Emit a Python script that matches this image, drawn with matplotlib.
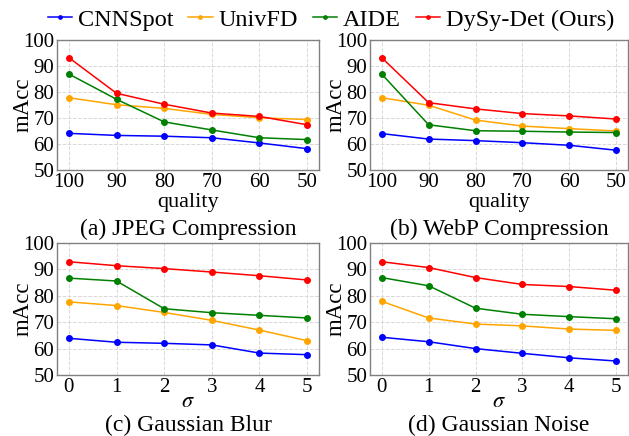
import matplotlib
matplotlib.use("Agg")
import matplotlib.pyplot as plt

plt.rcParams['font.family'] = ['Liberation Serif', 'DejaVu Serif']
plt.rcParams['mathtext.fontset'] = 'stix'

methods = ["CNNSpot", "UnivFD", "AIDE", "DySy-Det (Ours)"]
colors = ["blue", "orange", "green", "red"]

quality_ticks = ["100", "90", "80", "70", "60", "50"]
sigma_ticks = ["0", "1", "2", "3", "4", "5"]

jpeg = {
    "CNNSpot": [64.1, 63.3, 63.0, 62.4, 60.4, 58.2],
    "UnivFD": [77.8, 75.1, 73.7, 71.4, 70.1, 69.4],
    "AIDE": [86.9, 77.2, 68.5, 65.4, 62.4, 61.7],
    "DySy-Det (Ours)": [93.2, 79.5, 75.3, 71.9, 70.6, 67.4],
}
webp = {
    "CNNSpot": [64.0, 61.9, 61.3, 60.5, 59.5, 57.6],
    "UnivFD": [77.8, 74.9, 69.2, 66.9, 65.9, 65.0],
    "AIDE": [86.9, 67.4, 65.1, 64.9, 64.6, 64.4],
    "DySy-Det (Ours)": [93.2, 75.9, 73.5, 71.7, 70.8, 69.6],
}
blur = {
    "CNNSpot": [63.9, 62.4, 62.0, 61.4, 58.3, 57.7],
    "UnivFD": [77.7, 76.3, 73.7, 70.7, 67.0, 63.0],
    "AIDE": [86.7, 85.6, 75.1, 73.6, 72.6, 71.6],
    "DySy-Det (Ours)": [92.9, 91.4, 90.3, 89.0, 87.6, 86.0],
}
noise = {
    "CNNSpot": [64.3, 62.6, 60.0, 58.2, 56.5, 55.3],
    "UnivFD": [77.9, 71.6, 69.3, 68.6, 67.4, 66.9],
    "AIDE": [86.9, 83.8, 75.3, 73.0, 72.1, 71.3],
    "DySy-Det (Ours)": [92.9, 90.7, 86.9, 84.3, 83.5, 82.1],
}

panels = [
    (jpeg, quality_ticks, "quality", "(a) JPEG Compression"),
    (webp, quality_ticks, "quality", "(b) WebP Compression"),
    (blur, sigma_ticks, r"$\sigma$", "(c) Gaussian Blur"),
    (noise, sigma_ticks, r"$\sigma$", "(d) Gaussian Noise"),
]

W, H = 629, 436
fig = plt.figure(figsize=(W / 100, H / 100), dpi=100)

rects = [
    (57, 40, 319, 170),
    (370, 40, 628, 170),
    (57, 243, 319, 375),
    (370, 243, 628, 375),
]
# baselines (pixels from top) of the x label and the panel caption
label_base = [207, 207, 407, 407]
title_base = [235, 235, 431, 431]

handles = []
for i, ((data, ticks, xl, title), (x0, y0, x1, y1)) in enumerate(zip(panels, rects)):
    ax = fig.add_axes([x0 / W, 1 - y1 / H, (x1 - x0) / W, (y1 - y0) / H])
    xs = list(range(len(ticks)))
    for m, c in zip(methods, colors):
        h, = ax.plot(xs, data[m], color=c, marker='o', markersize=4, linewidth=1.1, label=m)
        if i == 0:
            handles.append(h)
    ax.set_ylim(50, 100)
    ax.set_yticks([50, 60, 70, 80, 90, 100])
    ax.set_xticks(xs)
    ax.set_xticklabels(ticks)
    ax.set_xlim(-0.25, 5.25)
    ax.grid(True, linestyle='--', color='#d8d8d8', linewidth=0.7)
    ax.set_axisbelow(True)
    for s in ax.spines.values():
        s.set_color('#808080')
        s.set_linewidth(1.0)
    ax.tick_params(axis='both', length=0, pad=2, labelsize=15)
    xc = (x0 + x1) / 2 / W
    fig.text(xc, 1 - label_base[i] / H, xl, ha='center', va='baseline', fontsize=16)
    fig.text(xc, 1 - title_base[i] / H, title, ha='center', va='baseline', fontsize=17)
    fig.text((x0 - 34) / W, 1 - ((y0 + y1) / 2) / H, "mAcc", rotation=90,
             ha='center', va='center', fontsize=16.5)

fig.legend(handles=handles, labels=methods, loc='center', bbox_to_anchor=(331 / W, 1 - 20 / H),
           ncol=4, frameon=False, fontsize=17.5, handlelength=1.0, handletextpad=0.25,
           columnspacing=0.6, markerscale=0.6, borderaxespad=0, borderpad=0)

fig.savefig("out.png", dpi=100)
